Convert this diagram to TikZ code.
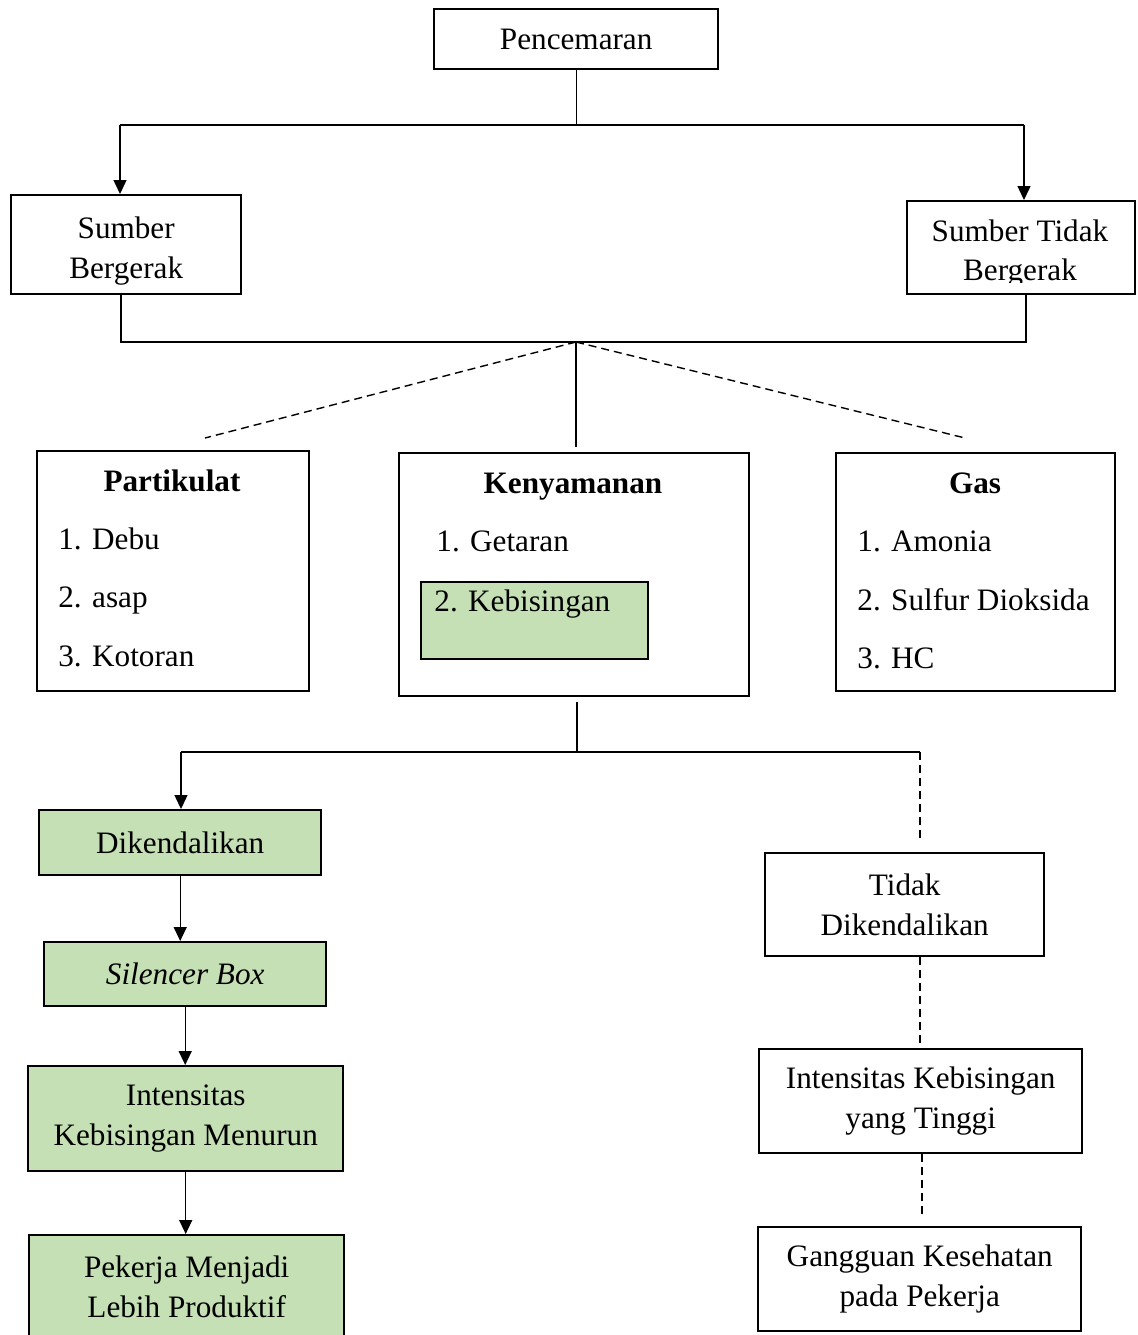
\documentclass[tikz,border=0pt]{standalone}
\usepackage{fontspec}
\setmainfont{Liberation Serif}
\usetikzlibrary{arrows.meta}
\definecolor{green1}{HTML}{C5E0B4}
\begin{document}
\begin{tikzpicture}[x=0.5pt,y=-0.5pt,
 box/.style={draw,line width=1.2pt,anchor=north west,inner sep=0pt,align=center,font=\fontsize{15.6}{20}\selectfont},
 gr/.style={fill=green1},
 txt/.style={inner sep=0pt,font=\fontsize{15.6}{20}\selectfont},
 item/.style={txt,anchor=base west},
 ttl/.style={txt,anchor=base,font=\fontsize{15.6}{20}\selectfont\bfseries},
 conn/.style={line width=0.7pt},
 arr/.style={conn,-{Triangle[length=7pt,width=6.5pt]}},
 dsh/.style={conn,dash pattern=on 4pt off 2.5pt}]
\useasboundingbox (0,0) rectangle (1138,1335);
\fill[white] (0,0) rectangle (1138,1335);

% top level
\node[box,minimum width=142pt,minimum height=30pt] (pen) at (433,8) {Pencemaran};
\node[box,minimum width=115pt,minimum height=49.5pt,text depth=0pt] (sb) at (10,194) {\raisebox{-3pt}{Sumber}\\\raisebox{-3pt}{Bergerak}};
\node[box,minimum width=114pt,minimum height=46.5pt] (stb) at (906,200) {};
\begin{scope}
\clip (906,200) rectangle (1134,282);
\node[txt,anchor=base] (stbt1) at (1020,241) {Sumber Tidak};
\node[txt,anchor=base] (stbt2) at (1020,280) {Bergerak};
\end{scope}

% category boxes
\node[box,minimum width=136pt,minimum height=120pt] (part) at (36,450) {};
\node[ttl] (partt) at (172,491) {Partikulat};
\node[item] (p1) at (58,549) {1. Debu};
\node[item] (p2) at (58,607) {2. asap};
\node[item] (p3) at (58,666) {3. Kotoran};

\node[box,minimum width=175pt,minimum height=121.5pt] (keny) at (398,452) {};
\node[ttl] (kenyt) at (573,493) {Kenyamanan};
\node[item] (k1) at (436,551) {1. Getaran};
\node[box,gr,minimum width=113.5pt,minimum height=38.5pt] (kebis) at (420,581) {};
\node[item] (k2) at (434,611) {2. Kebisingan};

\node[box,minimum width=139.5pt,minimum height=119pt] (gas) at (835,452) {};
\node[ttl] (gast) at (975,493) {Gas};
\node[item] (g1) at (857,551) {1. Amonia};
\node[item] (g2) at (857,610) {2. Sulfur Dioksida};
\node[item] (g3) at (857,668) {3. HC};

% left branch
\node[box,gr,minimum width=141pt,minimum height=32.5pt] (dik) at (38,809) {Dikendalikan};
\node[box,gr,minimum width=141pt,minimum height=32pt] (sil) at (43,941) {\textit{Silencer Box}};
\node[box,gr,minimum width=157.5pt,minimum height=52.5pt] (inm) at (27,1065) {Intensitas\\Kebisingan Menurun};
\node[box,gr,minimum width=157.5pt,minimum height=52pt] (pek) at (28,1234) {Pekerja Menjadi\\Lebih Produktif};

% right branch
\node[box,minimum width=139.5pt,minimum height=51.5pt] (tdk) at (764,852) {Tidak\\Dikendalikan};
\node[box,minimum width=161.5pt,minimum height=52pt] (ikt) at (758,1048) {Intensitas Kebisingan\\yang Tinggi};
\node[box,minimum width=161.5pt,minimum height=52pt] (gan) at (757,1226) {Gangguan Kesehatan\\pada Pekerja};

% junctions
\coordinate (ja) at (120,125);
\coordinate (jb) at (1024,125);
\coordinate (jc) at (121,342);
\coordinate (jd) at (1026,342);
\coordinate (jm) at (576,342);
\coordinate (dl) at (205,438);
\coordinate (dr) at (965,438);
\coordinate (jk) at (577,752);
\coordinate (jl) at (181,752);
\coordinate (jr) at (920,752);

% connectors top
\draw[conn] (pen.south) -- (pen.south |- ja);
\draw[conn] (ja) -- (jb);
\draw[arr] (ja) -- (ja |- sb.north);
\draw[arr] (jb) -- (jb |- stb.north);
\draw[conn] (jc |- sb.south) -- (jc) -- (jd) -- (jd |- stb.south);
\draw[conn,shorten >=2.5pt] (jm) -- (jm |- keny.north);
\draw[dsh] (jm) -- (dl);
\draw[dsh] (jm) -- (dr);

% connectors bottom
\draw[conn,shorten <=2.5pt] (jk |- keny.south) -- (jk);
\draw[conn] (jl) -- (jr);
\draw[arr] (jl) -- (jl |- dik.north);
\draw[dsh,shorten >=6pt] (jr) -- (jr |- tdk.north);
\draw[arr] (dik.south) -- (dik.south |- sil.north);
\draw[arr] (sil.south) -- (sil.south |- inm.north);
\draw[arr] (inm.south) -- (inm.south |- pek.north);
\draw[dsh] (jr |- tdk.south) -- (jr |- ikt.north);
\draw[dsh,shorten >=4pt] ([xshift=1pt]jr |- ikt.south) -- ([xshift=1pt]jr |- gan.north);
\end{tikzpicture}
\end{document}
